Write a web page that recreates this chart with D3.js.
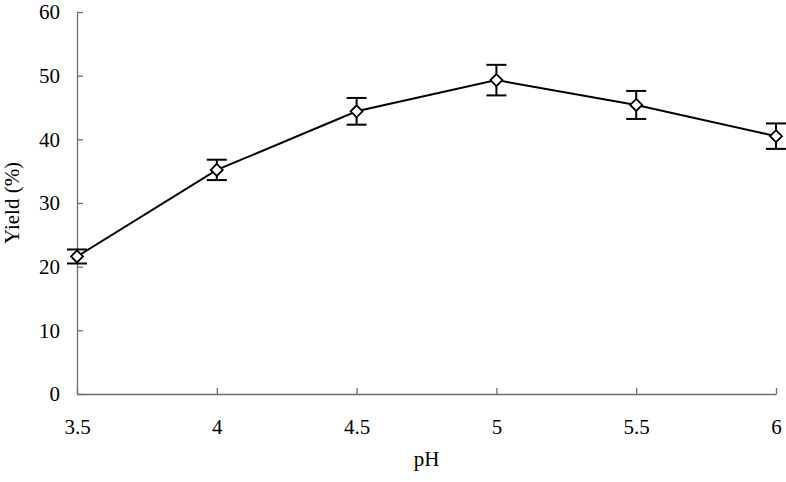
<!DOCTYPE html>
<html>
<head>
<meta charset="utf-8">
<script src="https://cdn.jsdelivr.net/npm/d3@7"></script>
<style>
  body { margin: 0; background: #fff; }
  svg text { font-family: "Liberation Serif", "Times New Roman", serif; fill: #000; }
</style>
</head>
<body>
<div id="chart"></div>
<script>
// pH vs yield data
const phValues = [3.5, 4, 4.5, 5, 5.5, 6];
const yieldValues = [21.6, 35.2, 44.4, 49.3, 45.4, 40.5];
const yieldErrors = [1.1, 1.6, 2.1, 2.4, 2.2, 2.0];
const xTicks = [3.5, 4, 4.5, 5, 5.5, 6];
const yTicks = [0, 10, 20, 30, 40, 50, 60];

const width = 786, height = 482;
const margin = { top: 12, right: 10, bottom: 88, left: 77 };

const svg = d3.select('#chart')
    .append('svg')
    .attr('width', width)
    .attr('height', height);

const x = d3.scaleLinear()
    .domain([3.5, 6])
    .range([margin.left, width - margin.right]);

const y = d3.scaleLinear()
    .domain([0, 60])
    .range([height - margin.bottom, margin.top]);

const axisColor = '#6e6e6e';

// y axis, ticks pointing inward
const yAxis = svg.append('g')
    .attr('transform', `translate(${margin.left},0)`)
    .call(d3.axisLeft(y).tickValues(yTicks).tickSizeInner(-6).tickSizeOuter(0).tickPadding(17));
yAxis.selectAll('path, line').attr('stroke', axisColor).attr('stroke-width', 1.3);
yAxis.selectAll('text').attr('font-size', 21).attr('font-family', '"Liberation Serif", serif');

// x axis, ticks pointing up
const xAxis = svg.append('g')
    .attr('transform', `translate(0,${height - margin.bottom})`)
    .call(d3.axisBottom(x).tickValues(xTicks).tickFormat(d3.format('')).tickSizeInner(-6).tickSizeOuter(0).tickPadding(25));
xAxis.selectAll('path, line').attr('stroke', axisColor).attr('stroke-width', 1.3);
xAxis.selectAll('text').attr('font-size', 21).attr('font-family', '"Liberation Serif", serif');

const points = phValues.map((p, i) => ({ ph: p, val: yieldValues[i], err: yieldErrors[i] }));

// connecting line
svg.append('path')
    .datum(points)
    .attr('fill', 'none')
    .attr('stroke', '#000')
    .attr('stroke-width', 2)
    .attr('d', d3.line().x(d => x(d.ph)).y(d => y(d.val)));

// error bars
const bars = svg.selectAll('.err')
    .data(points)
    .enter()
    .append('g')
    .attr('class', 'err')
    .attr('stroke', '#000')
    .attr('stroke-width', 2);

bars.append('line')
    .attr('x1', d => x(d.ph)).attr('x2', d => x(d.ph))
    .attr('y1', d => y(d.val - d.err)).attr('y2', d => y(d.val + d.err));
bars.append('line')
    .attr('x1', d => x(d.ph) - 10).attr('x2', d => x(d.ph) + 10)
    .attr('y1', d => y(d.val + d.err)).attr('y2', d => y(d.val + d.err));
bars.append('line')
    .attr('x1', d => x(d.ph) - 10).attr('x2', d => x(d.ph) + 10)
    .attr('y1', d => y(d.val - d.err)).attr('y2', d => y(d.val - d.err));

// diamond markers
svg.selectAll('.marker')
    .data(points)
    .enter()
    .append('path')
    .attr('class', 'marker')
    .attr('transform', d => `translate(${x(d.ph)},${y(d.val)})`)
    .attr('d', 'M0,-6L6,0L0,6L-6,0Z')
    .attr('fill', '#fff')
    .attr('stroke', '#000')
    .attr('stroke-width', 1.8);

// axis titles
svg.append('text')
    .attr('x', (margin.left + width - margin.right) / 2)
    .attr('y', 466)
    .attr('text-anchor', 'middle')
    .attr('font-size', 21)
    .text('pH');

svg.append('text')
    .attr('transform', `translate(19,${(margin.top + height - margin.bottom) / 2}) rotate(-90)`)
    .attr('text-anchor', 'middle')
    .attr('font-size', 21)
    .text('Yield (%)');
</script>
</body>
</html>
